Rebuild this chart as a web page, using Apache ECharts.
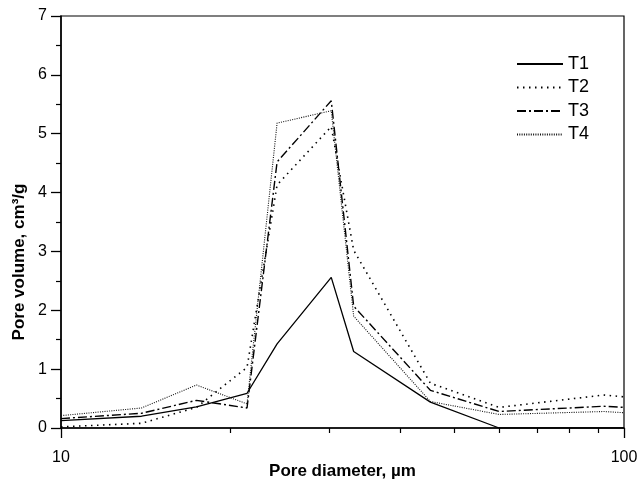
<!DOCTYPE html>
<html><head><meta charset="utf-8">
<script src="https://cdn.jsdelivr.net/npm/echarts@6/dist/echarts.min.js"></script>
<style>html,body{margin:0;padding:0;background:#fff}#c{width:637px;height:489px}</style>
</head><body><div id="c"></div>
<script>
const diameters = [10, 13.9, 17.4, 21.4, 24.2, 30.2, 33.1, 45.3, 60, 92, 100];
const t1 = [0.125, 0.2, 0.36, 0.59, 1.43, 2.56, 1.3, 0.44, 0, 0, 0];
const t2 = [0.02, 0.08, 0.35, 1.03, 4.13, 5.12, 3.02, 0.76, 0.35, 0.56, 0.53];
const t3 = [0.16, 0.25, 0.47, 0.34, 4.52, 5.56, 2.07, 0.64, 0.28, 0.37, 0.35];
const t4 = [0.21, 0.34, 0.73, 0.41, 5.18, 5.39, 1.9, 0.45, 0.23, 0.28, 0.26];
const seriesNames = ['T1', 'T2', 'T3', 'T4'];
const xMinorTicks = [20, 30, 40, 50, 60, 70, 80, 90];
const xTitle = 'Pore diameter, µm';
const yTitle = 'Pore volume, cm³/g';

const font = 'Liberation Sans, Arial, sans-serif';
const pair = arr => diameters.map((d, i) => [d, arr[i]]);
const styles = [
  {width: 1.3, type: 'solid', color: '#000'},
  {width: 1.6, type: [1.5, 4.5], color: '#000'},
  {width: 1.4, type: [9, 3, 2, 3], color: '#000'},
  {width: 1.1, type: [1, 1.3], color: '#111'}
];
const datasets = [t1, t2, t3, t4];

const chart = echarts.init(document.getElementById('c'), null, {renderer: 'canvas'});
chart.setOption({
  animation: false,
  backgroundColor: '#fff',
  grid: {left: 61, right: 13, top: 16, bottom: 61, outerBoundsMode: 'none', containLabel: false,
    show: true, borderColor: '#000', borderWidth: 1.2, backgroundColor: 'transparent'},
  legend: {
    data: seriesNames, orient: 'vertical', left: 511, top: 50,
    itemWidth: 46, itemHeight: 14, itemGap: 5.5,
    itemStyle: {opacity: 0},
    textStyle: {fontSize: 18, fontFamily: font, color: '#000'}
  },
  xAxis: [{
    type: 'log', logBase: 10, min: 10, max: 100,
    name: xTitle, nameLocation: 'middle', nameGap: 35, nameMoveOverlap: false,
    nameTextStyle: {fontSize: 17, fontWeight: 'bold', fontFamily: font, color: '#000'},
    axisLine: {lineStyle: {color: '#000', width: 1.5}},
    axisTick: {show: true, length: 10, lineStyle: {color: '#000', width: 1.3}},
    axisLabel: {fontSize: 16, fontFamily: font, color: '#000', margin: 22},
    splitLine: {show: false}
  }, {
    type: 'log', logBase: 10, min: 10, max: 100, position: 'bottom',
    axisLine: {show: false},
    axisTick: {show: true, length: 5, customValues: xMinorTicks, lineStyle: {color: '#000', width: 1.2}},
    axisLabel: {show: false},
    splitLine: {show: false}
  }],
  yAxis: {
    type: 'value', min: 0, max: 7, interval: 1,
    name: yTitle, nameLocation: 'middle', nameGap: 33, nameRotate: 90, nameMoveOverlap: false,
    nameTextStyle: {fontSize: 17, fontWeight: 'bold', fontFamily: font, color: '#000', padding: [0, 80, 0, 0]},
    axisLine: {show: true, lineStyle: {color: '#000', width: 1.5}},
    axisTick: {show: true, length: 10, lineStyle: {color: '#000', width: 1.3}},
    minorTick: {show: true, splitNumber: 2, length: 5, lineStyle: {color: '#000', width: 1.2}},
    axisLabel: {fontSize: 16, fontFamily: font, color: '#000', margin: 14},
    splitLine: {show: false}
  },
  series: datasets.map((arr, i) => ({
    name: seriesNames[i], type: 'line', data: pair(arr), xAxisIndex: i < 2 ? 0 : 1,
    showSymbol: false, symbol: 'none',
    lineStyle: styles[i], itemStyle: {color: '#000'}
  }))
});
</script></body></html>
